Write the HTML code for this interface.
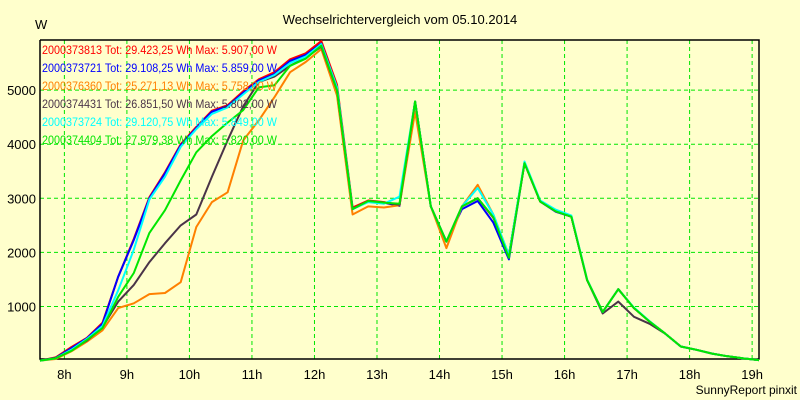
<!DOCTYPE html>
<html><head><meta charset="utf-8"><style>
body{margin:0;background:#FFFFCC;}
svg{display:block;font-family:"Liberation Sans",sans-serif;}
</style></head><body>
<svg id="chart" width="800" height="400" viewBox="0 0 800 400">
<rect x="0" y="0" width="800" height="400" fill="#FFFFCC"/>
<text x="400" y="24" text-anchor="middle" font-size="13" fill="#000">Wechselrichtervergleich vom 05.10.2014</text>
<text x="35" y="29" font-size="13" fill="#000">W</text>
<text x="797" y="394" text-anchor="end" font-size="12" fill="#000">SunnyReport pinxit</text>
<g id="grid"></g><g id="axes"></g><g id="series"></g><g id="legend"></g>
</svg>
<script>
const hourTicks=[8,9,10,11,12,13,14,15,16,17,18,19];
const yTicks=[1000,2000,3000,4000,5000];
const startTime=7.61, stepHours=0.25;
const seriesNames=["2000373813 Tot: 29.423,25 Wh Max: 5.907,00 W","2000373721 Tot: 29.108,25 Wh Max: 5.859,00 W","2000376360 Tot: 25.271,13 Wh Max: 5.758,00 W","2000374431 Tot: 26.851,50 Wh Max: 5.802,00 W","2000373724 Tot: 29.120,75 Wh Max: 5.849,00 W","2000374404 Tot: 27.979,38 Wh Max: 5.820,00 W"];
const seriesColors=["#FF0000","#0000FF","#FF8000","#4A3448","#00FFFF","#00E600"];
const redValues=[0,60,250,420,700,1550,2250,3020,3480,4000,4320,4620,4720,4980,5200,5330,5570,5680,5907,5100,2830,2960,2930,2880,4790,2850,2200,2850,3000,2640,1950,3650,2940,2760,2660,1490,900,1320,970,720,500,260,200,130,80,40,10];
const blueValues=[0,50,230,410,680,1550,2230,3000,3460,3980,4300,4600,4700,4950,5180,5300,5540,5650,5859,5050,2800,2940,2920,2860,4790,2850,2200,2800,2950,2550,1870,3650,2940,2750,2660,1490,900,1320,970,720,500,260,200,130,80,40,10];
const orangeValues=[0,30,170,350,560,970,1060,1230,1250,1450,2470,2930,3110,4070,4440,4870,5330,5520,5758,4900,2700,2850,2830,2870,4600,2850,2080,2850,3250,2700,1950,3650,2940,2760,2660,1490,900,1320,970,720,500,260,200,130,80,40,10];
const darkValues=[0,50,200,370,620,1090,1400,1820,2170,2500,2700,3400,4070,4700,5150,5250,5450,5600,5802,5000,2800,2950,2920,2880,4790,2850,2200,2850,3000,2650,1950,3650,2940,2760,2660,1490,870,1090,810,680,500,260,200,130,80,40,10];
const cyanValues=[0,40,200,400,640,1300,2050,2980,3400,3950,4280,4560,4680,4920,5150,5280,5500,5620,5849,5050,2800,2930,2900,3030,4790,2850,2200,2850,3190,2700,1950,3680,2960,2790,2680,1500,900,1320,980,730,500,260,200,130,80,40,10];
const greenValues=[0,40,180,380,600,1180,1620,2360,2780,3330,3850,4150,4400,4630,5050,5090,5450,5580,5820,5000,2800,2950,2920,2900,4790,2850,2200,2850,3000,2650,1900,3650,2940,2760,2660,1490,900,1320,970,720,500,260,200,130,80,40,10];
const allSeries=[redValues,blueValues,orangeValues,darkValues,cyanValues,greenValues];
const L=40,R=759,T=40,B=359;
const tMin=7.61,tMax=19.11;
function xScale(t){return L+(t-tMin)/(tMax-tMin)*(R-L);}
function yScale(v){return 360.6-v*0.0541;}
const NS="http://www.w3.org/2000/svg";
const grid=document.getElementById('grid'),axes=document.getElementById('axes'),ser=document.getElementById('series'),leg=document.getElementById('legend');
function mk(tag,attrs,parent){const e=document.createElementNS(NS,tag);for(const k in attrs)e.setAttribute(k,attrs[k]);parent.appendChild(e);return e;}
hourTicks.forEach(h=>{const x=xScale(h);
 if(x<R-1){const g=mk('line',{x1:x,x2:x,y1:T,y2:B,stroke:'#00E600','stroke-dasharray':'4,3','stroke-width':1},grid);
 
 }
 const t=mk('text',{x:x,y:379,'text-anchor':'middle','font-size':13,fill:'#000'},axes);t.textContent=h+'h';
 
 
});
yTicks.forEach(v=>{const y=yScale(v);
 const g=mk('line',{x1:L,x2:R,y1:y,y2:y,stroke:'#00E600','stroke-dasharray':'4,3','stroke-width':1},grid);
 
 
 const t=mk('text',{x:36,y:y+5,'text-anchor':'end','font-size':13,fill:'#000'},axes);t.textContent=v;
 
 
});
const fr=mk('path',{d:`M${L},${T}V${B}H${R}V${T}H${L}`,fill:'none',stroke:'#000','stroke-width':1.5},axes);


allSeries.forEach((vals,i)=>{
 const pts=vals.map((v,k)=>xScale(startTime+k*stepHours).toFixed(1)+','+yScale(v).toFixed(1)).join(' ');
 const p=mk('polyline',{points:pts,fill:'none',stroke:seriesColors[i],'stroke-width':2,'stroke-linejoin':'round'},ser);
 
 
 const t=mk('text',{x:42,y:54+i*18,'font-size':12,fill:seriesColors[i],textLength:235,lengthAdjust:'spacingAndGlyphs'},leg);t.textContent=seriesNames[i];
 
 
});
</script>
</body></html>
